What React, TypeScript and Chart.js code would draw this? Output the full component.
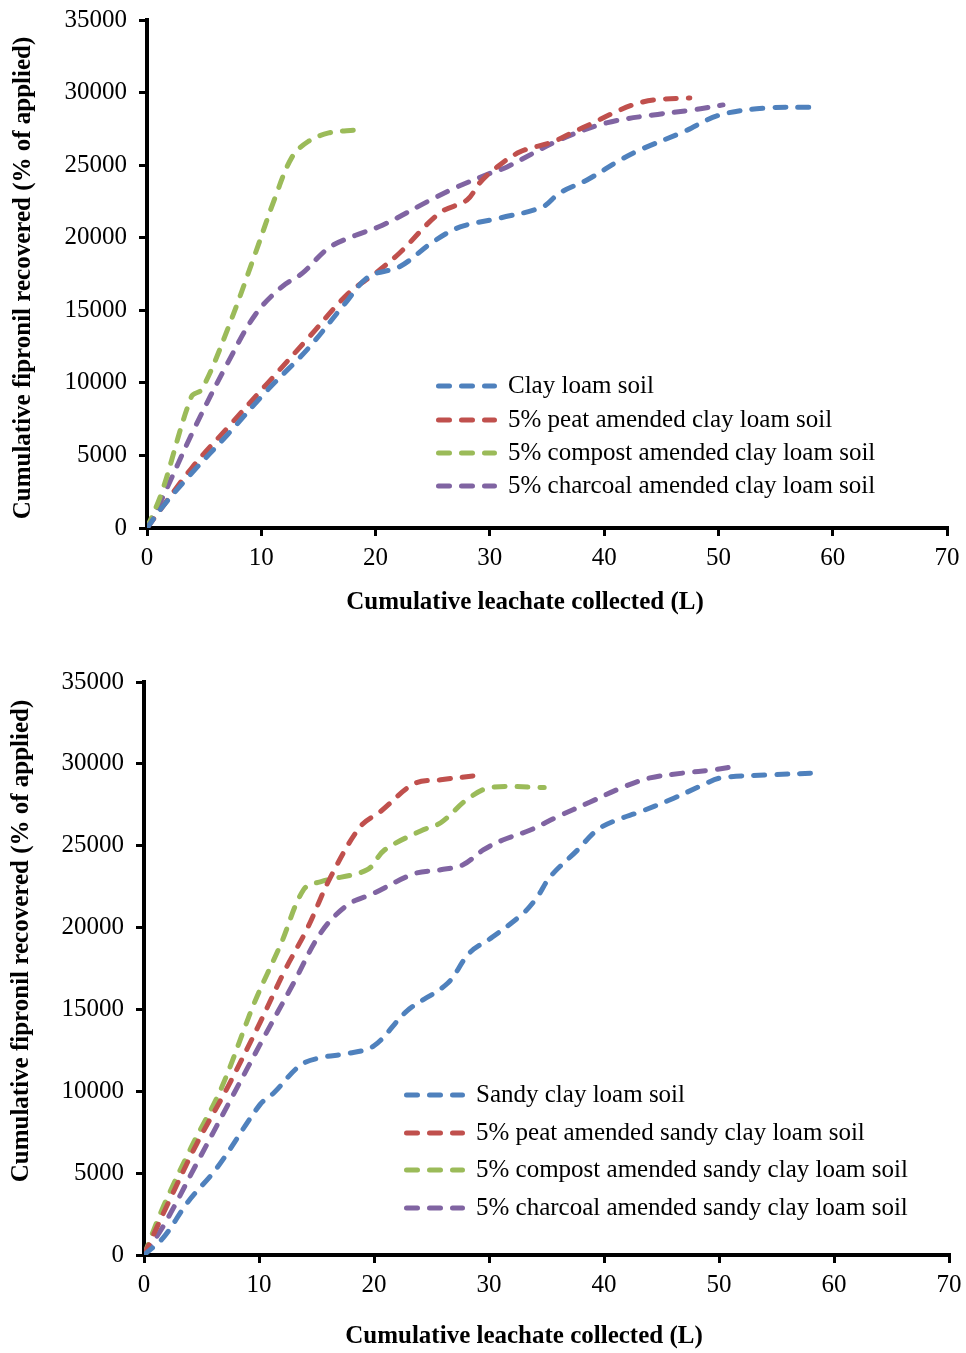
import React, { useEffect, useRef } from "react";
import { Chart, registerables } from "chart.js";

Chart.register(...registerables);

const FONT = "'Liberation Serif', 'Times New Roman', Times, serif";
const COLORS = ["#4F81BD", "#C0504D", "#9BBB59", "#8064A2"];

// Axis ticks
const xTicks = [0, 10, 20, 30, 40, 50, 60, 70];
const yTicks = [0, 5000, 10000, 15000, 20000, 25000, 30000, 35000];

const yTitle = "Cumulative fipronil recovered (% of applied)";
const xTitle = "Cumulative leachate collected (L)";

// ---------- Top chart: clay loam soil ----------
const topLabels = [
  "Clay loam soil",
  "5% peat amended clay loam soil",
  "5% compost amended clay loam soil",
  "5% charcoal amended clay loam soil",
];
const clayX = [0, 1.4, 3.9, 7.1, 10.6, 14.1, 17.3, 19.4, 22.1, 25, 27.4, 30.9, 34.6, 36.1, 38.5, 41.4, 43.1, 46.9, 50.1, 54.2, 58.3];
const clayY = [0, 1500, 3770, 6480, 9550, 12370, 15440, 17320, 18000, 19700, 20740, 21360, 22120, 23080, 23980, 25350, 26040, 27280, 28450, 28940, 29000];
const clayPeatX = [0, 3.9, 7.1, 10.6, 14.1, 17.6, 20, 22.1, 25.6, 28, 29.1, 30.3, 32.6, 35.5, 37.3, 39, 40.8, 42.5, 44.3, 47.5];
const clayPeatY = [0, 4120, 6950, 10020, 13080, 16150, 17560, 18950, 21700, 22600, 23770, 24670, 25900, 26600, 27280, 27900, 28590, 29150, 29490, 29630];
const clayCompostX = [0, 1.3, 3.9, 4.8, 7.1, 9.5, 11.2, 12.7, 14.1, 15.9, 18.3];
const clayCompostY = [0, 2470, 9070, 9550, 13790, 18970, 22750, 25570, 26630, 27220, 27430];
const clayCharcoalX = [0, 1.3, 4.2, 7.1, 9.5, 11.8, 13.6, 15.9, 18.2, 20.6, 24.6, 27, 29.9, 31.5, 36.1, 40.2, 44.3, 47.8, 50.4];
const clayCharcoalY = [0, 2000, 6950, 11430, 14730, 16620, 17560, 19300, 20150, 20860, 22510, 23450, 24400, 24880, 26740, 27910, 28460, 28810, 29150];

// ---------- Bottom chart: sandy clay loam soil ----------
const bottomLabels = [
  "Sandy clay loam soil",
  "5% peat amended sandy clay loam soil",
  "5% compost amended sandy clay loam soil",
  "5% charcoal amended sandy clay loam soil",
];
const sandyX = [0, 1.7, 3.8, 6.4, 10.1, 11.3, 13.6, 15.4, 17.7, 20, 22.9, 26.4, 28.3, 30.3, 33, 34.2, 35.3, 37.7, 39.4, 41.1, 43.1, 45.7, 48.6, 50.1, 54.2, 58.5];
const sandyY = [0, 1075, 3225, 5375, 9200, 9910, 11590, 12060, 12300, 12780, 14930, 16600, 18450, 19420, 20890, 21870, 23090, 24740, 25960, 26570, 27060, 27790, 28710, 29140, 29320, 29440];
const sandyPeatX = [0, 2.3, 4.6, 7.2, 10.1, 12.2, 14.2, 16.2, 18.8, 20.6, 23.5, 25.8, 29.3];
const sandyPeatY = [0, 3460, 6810, 10150, 14210, 17320, 19950, 23050, 26160, 27110, 28790, 29030, 29320];
const sandyCompostX = [0, 1.7, 4.1, 6.7, 9.6, 11.9, 13.9, 15.4, 19.4, 20.9, 24.1, 25.8, 28.1, 30.1, 34.8];
const sandyCompostY = [0, 2990, 6570, 10150, 15410, 18990, 22340, 22810, 23530, 24730, 25920, 26400, 27830, 28550, 28550];
const sandyCharcoalX = [0, 1.7, 4.6, 7.5, 10.4, 13, 15.4, 17.7, 20, 23.5, 25.8, 27.7, 29.5, 31.2, 33.6, 35.9, 38.8, 41.7, 44, 46.9, 49.5, 51.1];
const sandyCharcoalY = [0, 1790, 5610, 9440, 13260, 16600, 19710, 21380, 22100, 23290, 23530, 23820, 24740, 25350, 25960, 26750, 27670, 28590, 29140, 29440, 29630, 29810];

const DASH = [11, 12];

type Series = { label: string; x: number[]; y: number[] };

const legendPlugin = {
  id: "customLegend",
  afterDraw(chart: any, _args: any, opts: any) {
    if (!opts || !opts.rows) return;
    const ctx = chart.ctx;
    ctx.save();
    chart.data.datasets.forEach((ds: any, i: number) => {
      const y = opts.rows[i];
      ctx.beginPath();
      ctx.setLineDash(DASH);
      ctx.lineCap = "round";
      ctx.lineWidth = 5;
      ctx.strokeStyle = ds.borderColor;
      ctx.moveTo(opts.x + 2.5, y);
      ctx.lineTo(opts.x + 58.5, y);
      ctx.stroke();
      ctx.setLineDash([]);
      ctx.fillStyle = "#000";
      ctx.font = `25px ${FONT}`;
      ctx.textAlign = "left";
      ctx.textBaseline = "middle";
      ctx.fillText(ds.label, opts.x + 72, y);
    });
    ctx.restore();
  },
};

const titlePlugin = {
  id: "axisTitles",
  afterDraw(chart: any, _args: any, opts: any) {
    if (!opts || !opts.y) return;
    const ctx = chart.ctx;
    ctx.save();
    ctx.fillStyle = "#000";
    ctx.font = `bold 25px ${FONT}`;
    ctx.textAlign = "center";
    ctx.textBaseline = "middle";
    ctx.fillText(xTitle, opts.x[0], opts.x[1]);
    ctx.translate(opts.y[0], opts.y[1]);
    ctx.rotate(-Math.PI / 2);
    ctx.fillText(yTitle, 0, 0);
    ctx.restore();
  },
};

function LeachChart(props: {
  series: Series[];
  width: number;
  height: number;
  area: { left: number; top: number; right: number; bottom: number };
  legend: { x: number; rows: number[] };
  titles: { x: number[]; y: number[] };
}) {
  const ref = useRef<HTMLCanvasElement>(null);
  useEffect(() => {
    const { series, width, height, area, legend, titles } = props;
    const grid = {
      display: true,
      drawOnChartArea: false,
      drawTicks: true,
      tickLength: 8,
      color: "#000",
      lineWidth: 3,
    };
    const border = { display: true, color: "#000", width: 4 };
    const chart = new Chart(ref.current as HTMLCanvasElement, {
      type: "line",
      data: {
        datasets: series.map((s, i) => ({
          label: s.label,
          data: s.x.map((x, j) => ({ x, y: s.y[j] })),
          borderColor: COLORS[i],
          backgroundColor: COLORS[i],
          borderWidth: 5,
          borderDash: DASH,
          borderCapStyle: "round",
          pointRadius: 0,
          tension: 0.35,
          fill: false,
        })),
      },
      options: {
        responsive: false,
        animation: false,
        devicePixelRatio: 1,
        layout: { padding: { left: 0, top: area.top, right: width - area.right, bottom: 0 } },
        plugins: {
          legend: { display: false },
          tooltip: { enabled: false },
          customLegend: legend,
          axisTitles: titles,
        } as any,
        scales: {
          x: {
            type: "linear",
            min: 0,
            max: 70,
            grid,
            border,
            afterBuildTicks: (scale: any) => {
              scale.ticks = xTicks.map((v) => ({ value: v }));
            },
            afterFit: (scale: any) => {
              scale.height = height - area.bottom;
              scale.paddingLeft = 0;
              scale.paddingRight = 0;
              scale.paddingTop = 0;
              scale.paddingBottom = 0;
            },
            ticks: {
              color: "#000",
              padding: 7,
              font: { family: FONT, size: 25 },
              maxRotation: 0,
              callback: (v: any) => String(v),
            },
          },
          y: {
            type: "linear",
            min: 0,
            max: 35000,
            grid,
            border,
            afterBuildTicks: (scale: any) => {
              scale.ticks = yTicks.map((v) => ({ value: v }));
            },
            afterFit: (scale: any) => {
              scale.width = area.left;
              scale.paddingLeft = 0;
              scale.paddingRight = 0;
              scale.paddingTop = 0;
              scale.paddingBottom = 0;
            },
            ticks: {
              color: "#000",
              padding: 12,
              font: { family: FONT, size: 25 },
              callback: (v: any) => String(v),
            },
          },
        } as any,
      },
      plugins: [legendPlugin, titlePlugin],
    } as any);
    return () => chart.destroy();
  }, []);
  return (
    <canvas
      ref={ref}
      width={props.width}
      height={props.height}
      style={{ display: "block", width: props.width, height: props.height }}
    />
  );
}

export default function App() {
  const topSeries: Series[] = [
    { label: topLabels[0], x: clayX, y: clayY },
    { label: topLabels[1], x: clayPeatX, y: clayPeatY },
    { label: topLabels[2], x: clayCompostX, y: clayCompostY },
    { label: topLabels[3], x: clayCharcoalX, y: clayCharcoalY },
  ];
  const bottomSeries: Series[] = [
    { label: bottomLabels[0], x: sandyX, y: sandyY },
    { label: bottomLabels[1], x: sandyPeatX, y: sandyPeatY },
    { label: bottomLabels[2], x: sandyCompostX, y: sandyCompostY },
    { label: bottomLabels[3], x: sandyCharcoalX, y: sandyCharcoalY },
  ];
  return (
    <div style={{ position: "absolute", left: 0, top: 0, width: 966, height: 1353, background: "#fff" }}>
      <div style={{ position: "absolute", left: 0, top: 0 }}>
        <LeachChart
          series={topSeries}
          width={966}
          height={630}
          area={{ left: 147, top: 20, right: 947, bottom: 528 }}
          legend={{ x: 436, rows: [386, 420, 453, 486] }}
          titles={{ x: [525, 603], y: [24, 278] }}
        />
      </div>
      <div style={{ position: "absolute", left: 0, top: 640 }}>
        <LeachChart
          series={bottomSeries}
          width={966}
          height={713}
          area={{ left: 144, top: 42, right: 949, bottom: 615 }}
          legend={{ x: 404, rows: [455, 493, 530, 568] }}
          titles={{ x: [524, 697], y: [22, 301] }}
        />
      </div>
    </div>
  );
}
